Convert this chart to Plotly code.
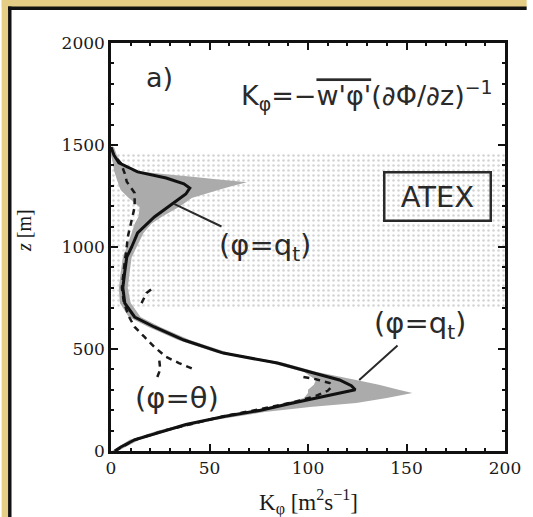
import plotly.graph_objects as go

# ---- data ----
# solid line: K_phi for phi = q_t  (m^2/s) vs height z (m)
z_solid = [0, 20, 55, 100, 130, 170, 200, 230, 260, 280, 300, 320, 348, 387, 431, 480,
           544, 608, 657, 725, 800, 880, 950, 1000, 1069, 1147, 1216, 1260, 1289, 1310,
           1338, 1368, 1412, 1450, 1490]
k_solid = [2, 5, 12, 27, 38, 58, 76, 90, 104, 114, 124, 122, 116, 101, 84.5, 57,
           37, 22, 12, 7, 6, 7, 8, 10.5, 13.5, 22, 32, 38, 40, 37,
           28, 13.5, 4, 1.5, 0]

# dashed line: K_phi for phi = theta (gaps where it is not drawn)
z_dash = [0, 55, 100, 170, 200, 240, 270, 295, 315, 333, 352, 366, None,
          405, 431, 461, 510, 559, 608, 660, 730, 800, 855, 930, 1000, 1049, 1132,
          1196, 1265, 1320, 1360, 1411, 1450, None,
          363, 400, 446, None,
          725, 774, 804]
k_dash = [2, 12, 27, 57, 73, 93, 104, 110, 112, 111, 104, 96, None,
          41, 34.5, 28, 22, 17, 12, 9, 6.5, 5.5, 6, 7, 8, 8.5, 10.5,
          12, 12, 8, 7, 5, 1.5, None,
          23.5, 25, 24.5, None,
          15.5, 18, 22]

# grey envelope around the q_t profile
z_band = [0, 55, 100, 150, 191, 216, 235, 260, 284, 300, 325, 348, 387, 431, 480, 544,
          608, 657, 725, 800, 880, 950, 1000, 1069, 1114, 1150, 1196, 1240, 1278, 1300,
          1318, 1330, 1345, 1360, 1375, 1412, 1450, 1490]
k_hi = [3.5, 14.5, 30, 51, 78, 101, 124.5, 140, 153, 146, 136, 124.5, 104.5, 88, 60, 40,
        25, 15, 10, 8.5, 9.5, 10.5, 13, 16.5, 20.5, 26, 34.5, 41, 54, 62,
        69, 56, 40, 24, 10, 5.5, 3, 1.5]
k_lo = [0.5, 9.5, 24, 45, 68, 80, 88, 98, 100, 100, 103, 104, 98, 81, 54, 34,
        19, 9, 4.5, 4, 5, 6, 8, 10.5, 12, 14, 14.5, 9, 5, 4,
        3.5, 3, 2.5, 2, 1.5, 1, 0, 0]

# cloud layer (stippled)
cloud_layer = [700, 1460]
x_range = [0, 200]
y_range = [0, 2000]

x_ticks = [0, 50, 100, 150, 200]
y_ticks = [0, 500, 1000, 1500, 2000]

fig = go.Figure()

# stippled cloud layer
fig.add_trace(go.Scatter(
    x=[x_range[0], x_range[1], x_range[1], x_range[0], x_range[0]],
    y=[cloud_layer[0], cloud_layer[0], cloud_layer[1], cloud_layer[1], cloud_layer[0]],
    fill="toself", mode="none", hoverinfo="skip", showlegend=False,
    fillcolor="rgba(255,255,255,0)",
    fillpattern=dict(shape=".", size=5, solidity=0.2, fgcolor="#a8a8a8", bgcolor="white"),
))

# grey envelope
fig.add_trace(go.Scatter(
    x=k_hi + k_lo[::-1], y=z_band + z_band[::-1],
    fill="toself", mode="none", fillcolor="#ababab", hoverinfo="skip", showlegend=False,
))

# dashed theta profile
fig.add_trace(go.Scatter(
    x=k_dash, y=z_dash, mode="lines", name="φ=θ", showlegend=False, connectgaps=False,
    line=dict(color="#1a1a1a", width=2.5, dash="6px,5px"),
))

# solid q_t profile
fig.add_trace(go.Scatter(
    x=k_solid, y=z_solid, mode="lines", name="φ=q_t", showlegend=False,
    line=dict(color="#111111", width=3),
))

axis_common = dict(
    showline=True, linecolor="#111", linewidth=2.5, mirror="ticks",
    ticks="inside", ticklen=7, tickwidth=1.8, tickcolor="#111",
    showgrid=False, zeroline=False,
    tickfont=dict(family="DejaVu Serif", size=17, color="#1a1a1a"),
)

fig.update_xaxes(range=x_range, tickvals=x_ticks,
                 minor=dict(dtick=10, ticks="inside", ticklen=3.5, tickwidth=1.5,
                            tickcolor="#111", showgrid=False),
                 **axis_common)
fig.update_yaxes(range=y_range, tickvals=y_ticks,
                 minor=dict(dtick=100, ticks="inside", ticklen=3.5, tickwidth=1.5,
                            tickcolor="#111", showgrid=False),
                 **axis_common)

hand = dict(family="DejaVu Sans", color="#2a2a2a")

annotations = [
    # axis titles
    dict(text="K<sub>φ</sub> [m<sup>2</sup>s<sup>−1</sup>]", xref="paper", yref="paper",
         x=0.5, y=-0.125, xanchor="center", yanchor="middle", showarrow=False,
         font=dict(family="Liberation Serif", size=23, color="#1a1a1a")),
    dict(text="<i>z</i> [m]", xref="paper", yref="paper", x=-0.2225, y=0.54,
         xanchor="center", yanchor="middle", textangle=-90,
         showarrow=False, font=dict(family="Liberation Serif", size=20, color="#1a1a1a")),
    # panel label and formula
    dict(text="a)", x=24.5, y=1830, showarrow=False, font=dict(size=27, **hand)),
    dict(text="K<sub>φ</sub>=−<span style='text-decoration:overline'>w'φ'</span>(∂Φ/∂z)<sup>−1</sup>",
         x=130, y=1745, showarrow=False, font=dict(size=27, **hand)),
    dict(text="&nbsp;ATEX&nbsp;", x=165.5, y=1250, showarrow=False, font=dict(size=29, **hand),
         bordercolor="#2a2a2a", borderwidth=2.5, borderpad=6),
    # curve labels
    dict(text="(φ=q<sub>t</sub>)", x=32, y=1211, ax=78, ay=1000, axref="x", ayref="y",
         showarrow=True, arrowhead=0, arrowwidth=2, arrowcolor="#2a2a2a",
         font=dict(size=29, **hand)),
    dict(text="(φ=q<sub>t</sub>)", x=126, y=348, ax=157, ay=618, axref="x", ayref="y",
         showarrow=True, arrowhead=0, arrowwidth=2, arrowcolor="#2a2a2a",
         font=dict(size=29, **hand)),
    dict(text="(φ=θ)", x=33.5, y=260, showarrow=False, font=dict(size=29, **hand)),
]

# page decoration: gold strip and black frame (paper coords)
L, T, W, H = 111, 43, 400, 408
def px(xp):
    return (xp - L) / W
def py(yp):
    return (T + H - yp) / H

shapes = [
    dict(type="rect", xref="paper", yref="paper", x0=px(0), x1=px(533), y0=py(0), y1=py(7),
         fillcolor="#e6cd86", line=dict(width=0), layer="below"),
    dict(type="rect", xref="paper", yref="paper", x0=px(0), x1=px(6.5), y0=py(0), y1=py(517),
         fillcolor="#e6cd86", line=dict(width=0), layer="below"),
    dict(type="rect", xref="paper", yref="paper", x0=px(6.5), x1=px(533), y0=py(6.5), y1=py(10),
         fillcolor="#111", line=dict(width=0), layer="above"),
    dict(type="rect", xref="paper", yref="paper", x0=px(6.5), x1=px(10), y0=py(6.5), y1=py(517),
         fillcolor="#111", line=dict(width=0), layer="above"),
]

fig.update_layout(
    width=533, height=517, autosize=False,
    margin=dict(l=L, r=533 - L - W, t=T, b=517 - T - H),
    paper_bgcolor="white", plot_bgcolor="white",
    annotations=annotations, shapes=shapes,
    showlegend=False,
)

fig.write_html("out.html", config={"displayModeBar": False},
               post_script="document.body.style.margin='0';document.body.style.overflow='hidden';")
